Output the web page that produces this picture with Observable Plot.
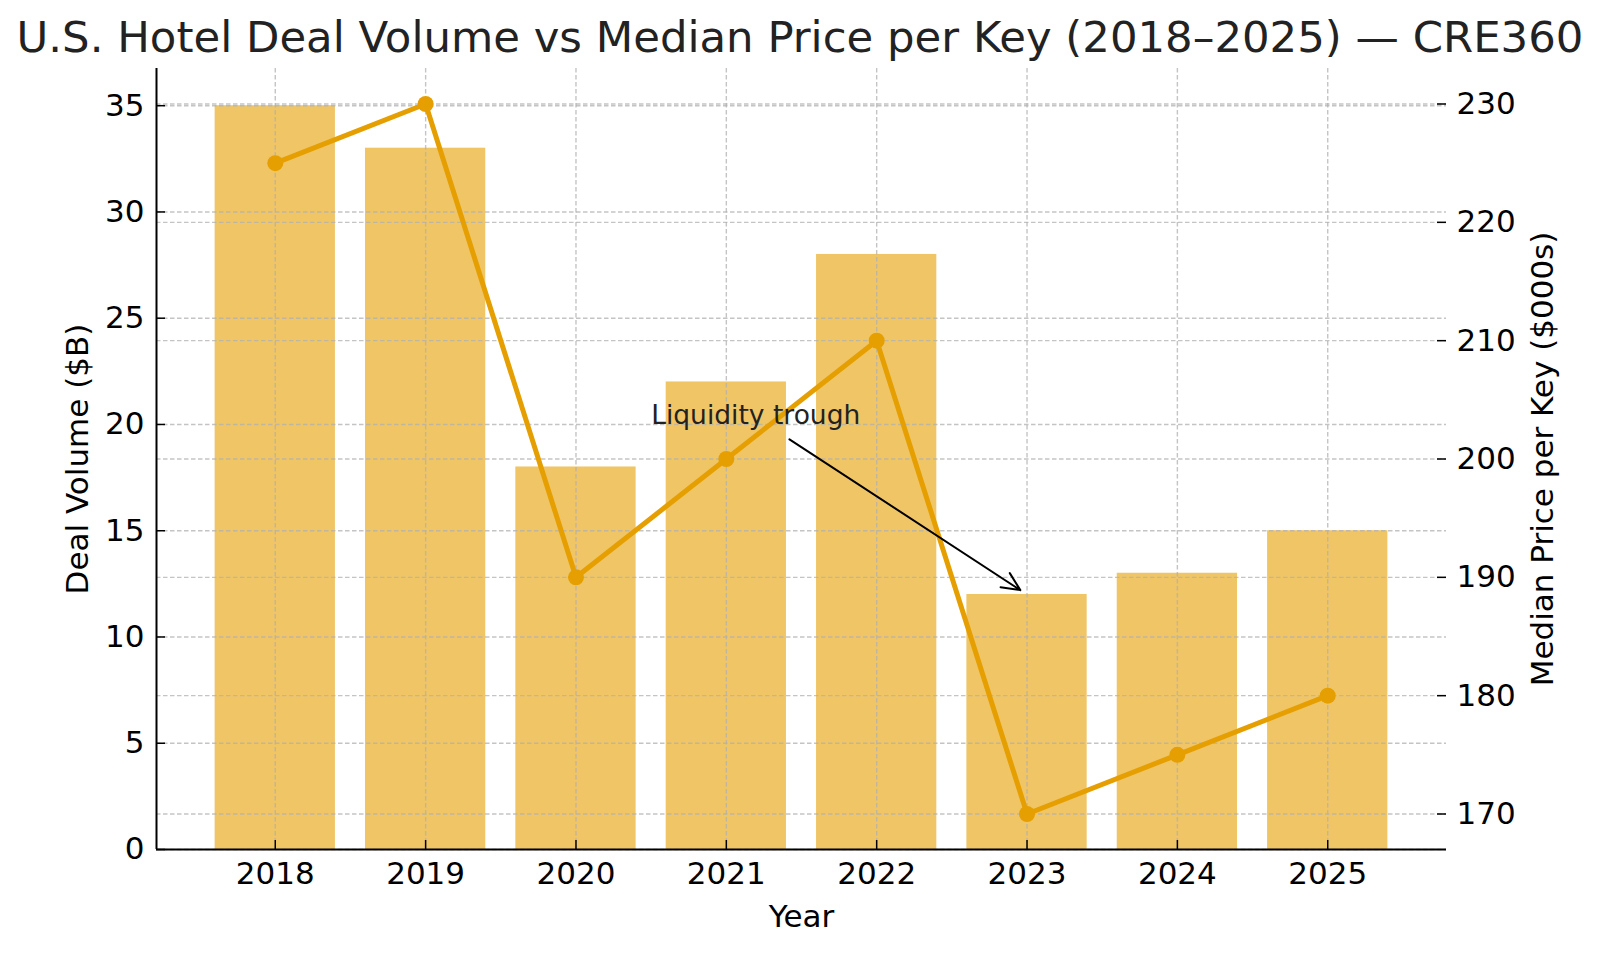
<!DOCTYPE html>
<html>
<head>
<meta charset="utf-8">
<script src="https://cdn.jsdelivr.net/npm/d3@7"></script>
<script src="https://cdn.jsdelivr.net/npm/@observablehq/plot@0.6"></script>
<style>
  body { margin: 0; background: #fff; font-family: "DejaVu Sans", sans-serif; }
  #title { height: 60px; box-sizing: border-box; padding-top: 16px; font-size: 43.4px; line-height: 1;
           color: #222; white-space: nowrap; text-align: center; }
  #chart svg { display: block; }
</style>
</head>
<body>
<div id="title">U.S. Hotel Deal Volume vs Median Price per Key (2018–2025) — CRE360</div>
<div id="chart"></div>
<script>
// ---- data ----
const years = ["2018", "2019", "2020", "2021", "2022", "2023", "2024", "2025"];
const dealVolume = [35, 33, 18, 22, 28, 12, 13, 15];           // $B (left axis)
const medianPrice = [225, 230, 190, 200, 210, 170, 175, 180];  // $000s (right axis)
const leftTicks = [0, 5, 10, 15, 20, 25, 30, 35];
const rightTicks = [170, 180, 190, 200, 210, 220, 230];
const leftDomain = [0, 36.75];
const rightDomain = [167, 233];
const xDomain = [-0.79, 7.79];
const annotation = { label: "Liquidity trough", textX: 2.5, textY: 20, fromX: 3.42, fromY: 19.3, toX: 5, toY: 12 };

// ---- derived ----
const rows = years.map((year, i) => ({ i, year, vol: dealVolume[i], price: medianPrice[i] }));
const toLeft = v => (v - rightDomain[0]) / (rightDomain[1] - rightDomain[0]) * (leftDomain[1] - leftDomain[0]) + leftDomain[0];
const rightPos = rightTicks.map(toLeft);
const idx = rows.map(d => d.i);

const W = 1600, H = 893;
const mt = 8, mr = 154, mb = 104, ml = 156;
const fw = W - ml - mr, fh = H - mt - mb;

const gridStyle = { stroke: "#b0b0b0", strokeOpacity: 0.75, strokeWidth: 1.4, strokeDasharray: "4.5,2.5" };
const orange = "#E69F00";

const chart = Plot.plot({
  width: W, height: H,
  marginTop: mt, marginRight: mr, marginBottom: mb, marginLeft: ml,
  style: { fontFamily: "DejaVu Sans, sans-serif", fontSize: "31px", color: "black", background: "white" },
  x: { type: "linear", domain: xDomain },
  y: { type: "linear", domain: leftDomain },
  marks: [
    Plot.rectY(rows, { x1: d => d.i - 0.4, x2: d => d.i + 0.4, y: "vol", fill: orange, fillOpacity: 0.6 }),
    // grids
    Plot.ruleX(idx, { x: d => d, ...gridStyle }),
    Plot.ruleY(leftTicks, { y: d => d, ...gridStyle }),
    Plot.ruleY(rightTicks, { y: toLeft, ...gridStyle }),
    // spines
    Plot.ruleY([leftDomain[0]], { stroke: "black", strokeWidth: 2 }),
    Plot.ruleX([xDomain[0]], { stroke: "black", strokeWidth: 2 }),
    // inward tick marks
    Plot.tickY(leftTicks, { y: d => d, stroke: "black", strokeWidth: 1.5, insetRight: fw - 9 }),
    Plot.tickY(rightTicks, { y: toLeft, stroke: "black", strokeWidth: 1.5, insetLeft: fw - 9 }),
    Plot.tickX(idx, { x: d => d, stroke: "black", strokeWidth: 1.5, insetTop: fh - 9 }),
    // axes labels
    Plot.axisY({ anchor: "left", ticks: leftTicks, tickSize: 0, tickPadding: 12, label: null }),
    Plot.axisY({ anchor: "right", ticks: rightPos, tickFormat: v => String(rightTicks[rightPos.indexOf(v)]), tickSize: 0, tickPadding: 10, label: null }),
    Plot.axisX({ ticks: idx, tickFormat: i => years[i], tickSize: 0, tickPadding: 12, label: null }),
    // line series
    Plot.line(rows, { x: "i", y: d => toLeft(d.price), stroke: orange, strokeWidth: 5 }),
    Plot.dot(rows, { x: "i", y: d => toLeft(d.price), r: 8, fill: orange, stroke: "none" }),
    // annotation
    Plot.text([annotation], { x: "textX", y: "textY", text: "label", textAnchor: "start", lineAnchor: "bottom", fontSize: 26.5, fill: "#222" }),
    Plot.arrow([annotation], { x1: "fromX", y1: "fromY", x2: "toX", y2: "toY", insetEnd: 8, stroke: "black", strokeWidth: 2, headLength: 15, headAngle: 50 }),
    // axis titles
    Plot.text(["Year"], { frameAnchor: "bottom", dy: 77, lineAnchor: "bottom", text: d => d, fill: "black" }),
    Plot.text(["Deal Volume ($B)"], { frameAnchor: "left", dx: -69, rotate: -90, textAnchor: "middle", lineAnchor: "bottom", text: d => d, fill: "black" }),
    Plot.text(["Median Price per Key ($000s)"], { frameAnchor: "right", dx: 106, rotate: -90, textAnchor: "middle", lineAnchor: "bottom", text: d => d, fill: "black" })
  ]
});
document.getElementById("chart").appendChild(chart);
</script>
</body>
</html>
